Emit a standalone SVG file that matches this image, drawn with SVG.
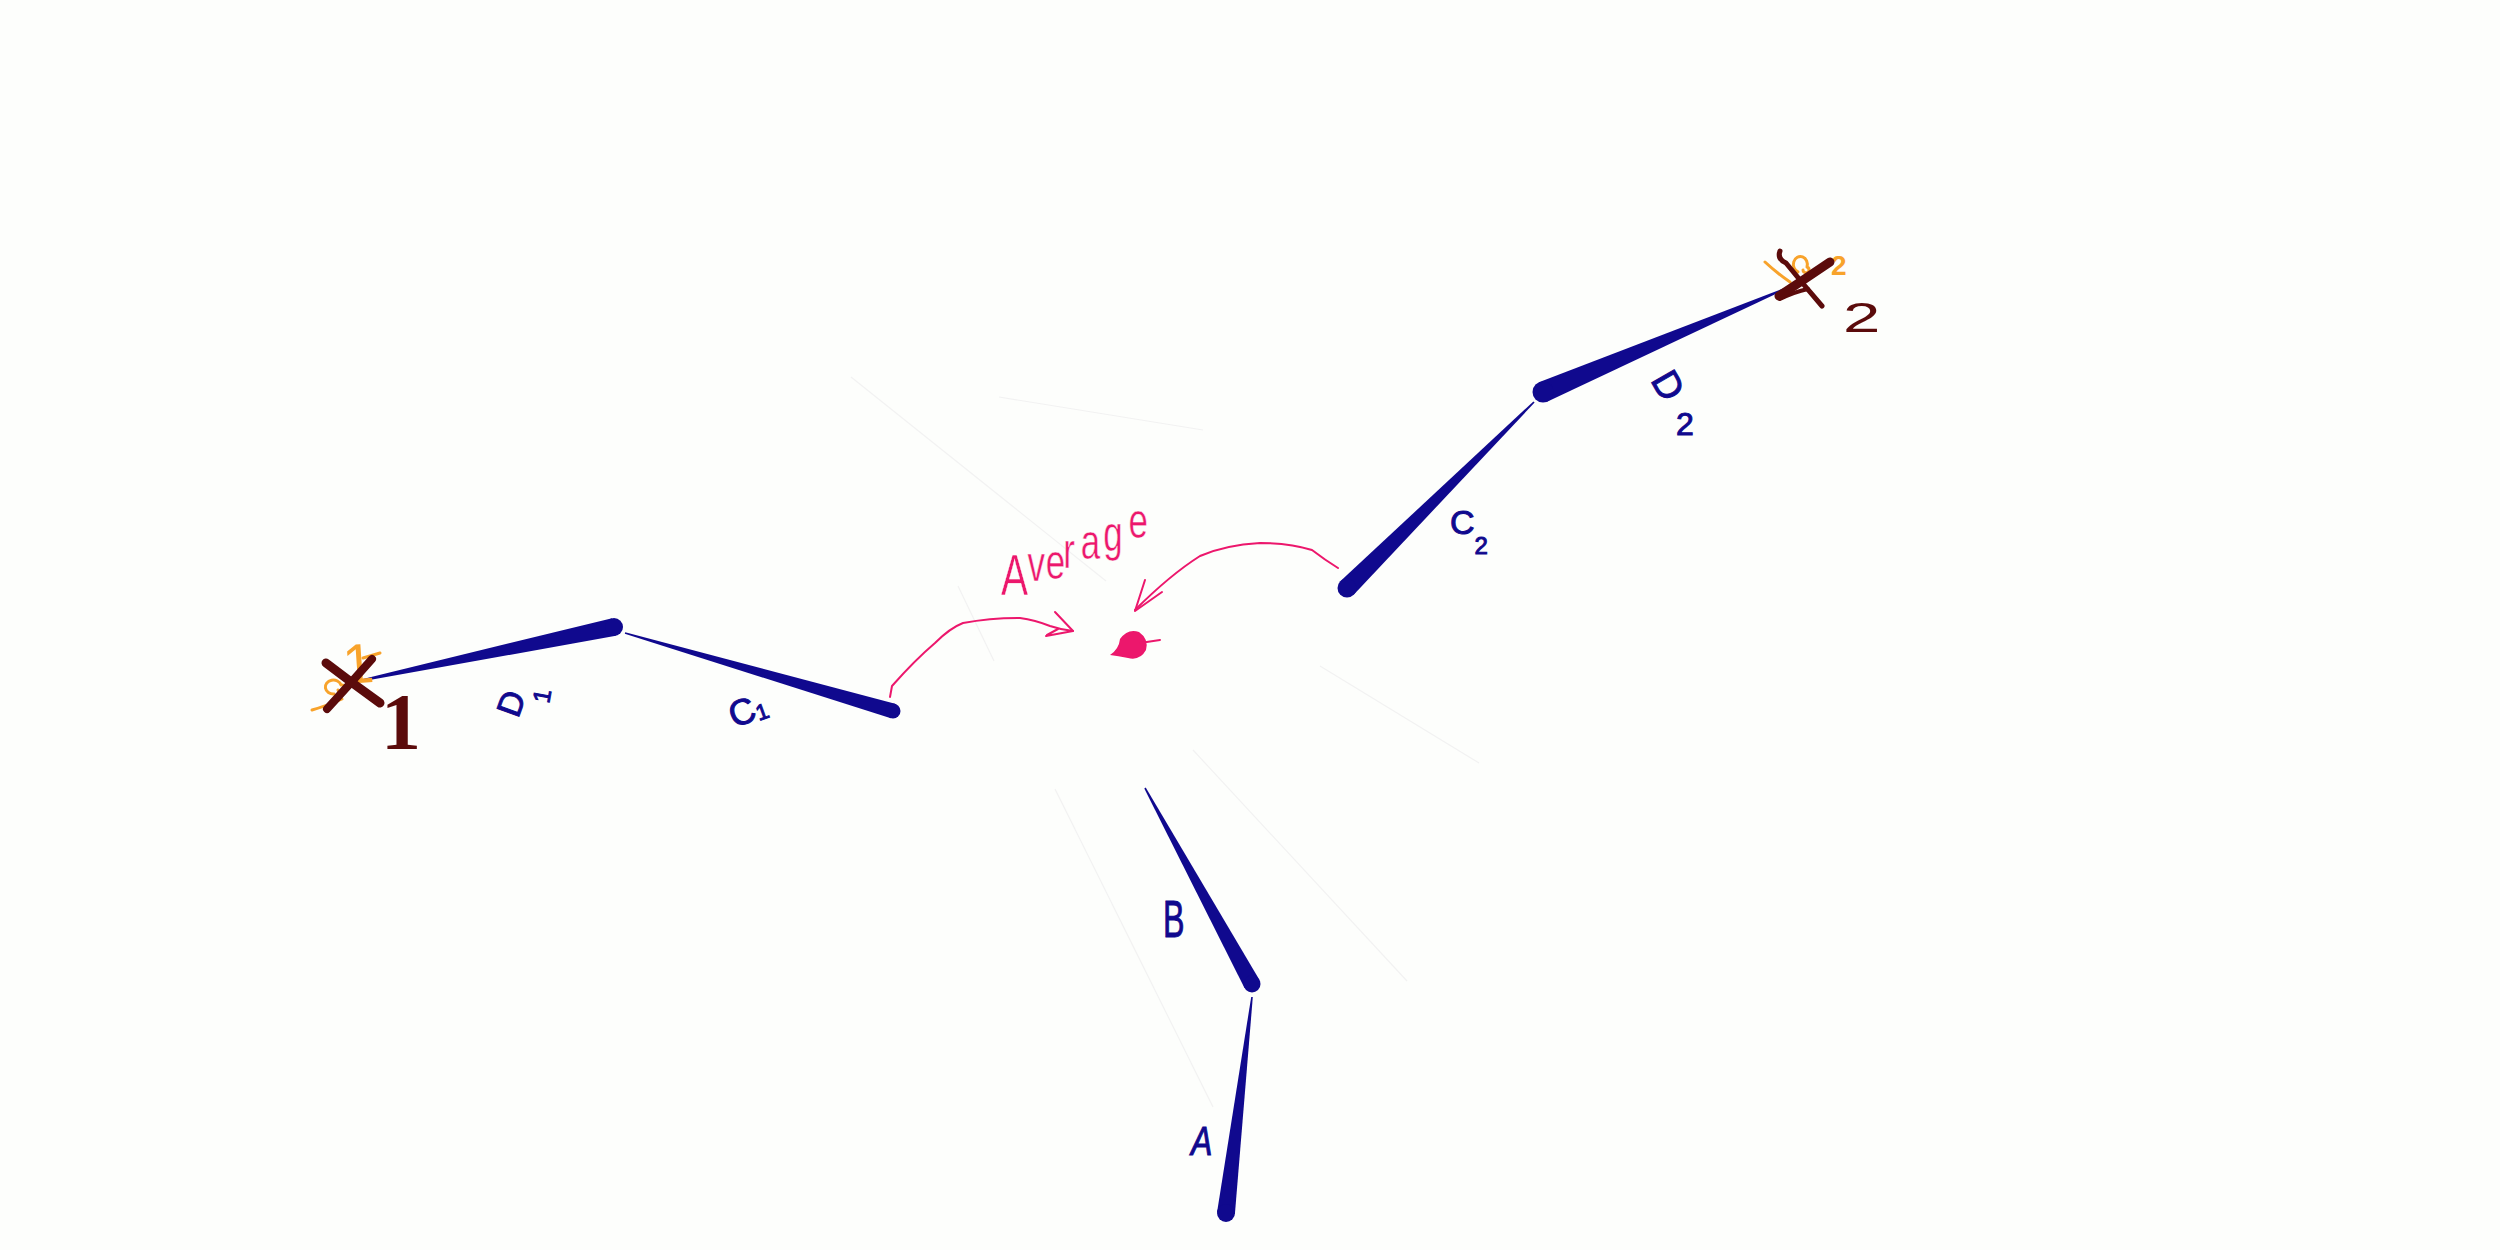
<svg xmlns="http://www.w3.org/2000/svg" width="2500" height="1250" viewBox="0 0 2500 1250">
  <style>
    .navy { fill: #10098e; }
    .lbl { font-family: "Liberation Sans", sans-serif; fill: #10098e; stroke: #10098e; stroke-width: 1; }
    .brown-stroke { fill: none; stroke: #5b0b0b; stroke-linecap: round; stroke-linejoin: round; }
    .brown-serif { font-family: "Liberation Serif", serif; font-weight: bold; fill: #5b0b0b; }
    .brown-sans { font-family: "Liberation Sans", sans-serif; fill: #5b0b0b; }
    .orange-stroke { fill: none; stroke: #f8a32b; stroke-width: 3; stroke-linecap: round; stroke-linejoin: round; }
    .orange-text { font-family: "Liberation Sans", sans-serif; fill: #f8a32b; }
    .pink-line { fill: none; stroke: #ec176c; stroke-width: 2; stroke-linecap: round; stroke-linejoin: round; }
    .avg { font-family: "Liberation Sans", sans-serif; fill: #ec176c; stroke: #fdfefc; stroke-width: 0.5; }
    .guide { stroke: #f2f2f2; stroke-width: 1.2; fill: none; }
  </style>
  <rect x="0" y="0" width="2500" height="1250" fill="#fdfefc"/>

  <g id="guides">
    <line class="guide" x1="851" y1="377" x2="1106" y2="581"/>
    <line class="guide" x1="999" y1="397" x2="1203" y2="430"/>
    <line class="guide" x1="958" y1="586" x2="994" y2="661"/>
    <line class="guide" x1="1320" y1="666" x2="1479" y2="763"/>
    <line class="guide" x1="1193" y1="750" x2="1407" y2="981"/>
    <line class="guide" x1="1055" y1="789" x2="1213" y2="1107"/>
  </g>

  <g id="segment-D1">
    <polygon class="navy" points="354.2,682.8 615.9,635.8 612.1,618.2 353.8,681.2"/>
    <circle class="navy" cx="614" cy="627" r="9"/>
    <text class="lbl" font-size="34"><tspan x="518" y="719" rotate="-70">D</tspan><tspan x="549" y="704" font-size="24" rotate="-80">1</tspan></text>
  </g>

  <g id="segment-C1">
    <polygon class="navy" points="624.8,633.8 890.9,718.2 895.1,703.8 625.2,632.2"/>
    <circle class="navy" cx="893" cy="711" r="7.5"/>
    <text class="lbl" font-size="36" transform="translate(734,728) rotate(-20)">C<tspan font-size="22" dy="2">1</tspan></text>
  </g>

  <g id="segment-C2">
    <polygon class="navy" points="1533.4,401.4 1340.3,581.3 1353.7,594.7 1534.6,402.6"/>
    <circle class="navy" cx="1347" cy="588" r="9.5"/>
    <text class="lbl" font-size="34" x="1450" y="534">C<tspan font-size="24" dy="20">2</tspan></text>
  </g>

  <g id="segment-D2">
    <polygon class="navy" points="1788.7,286.3 1538.9,382.3 1547.1,401.7 1789.3,287.7"/>
    <circle class="navy" cx="1543" cy="392" r="10.5"/>
    <text class="lbl" font-size="38"><tspan x="1650" y="380" rotate="60">D</tspan><tspan x="1676" y="435" font-size="32">2</tspan></text>
  </g>

  <g id="segment-B">
    <polygon class="navy" points="1144.3,788.4 1244.5,988.1 1259.5,979.9 1145.7,787.6"/>
    <circle class="navy" cx="1252" cy="984" r="8.5"/>
    <text class="lbl" font-size="52" transform="translate(1163,937) scale(0.62,1)">B</text>
  </g>

  <g id="segment-A">
    <polygon class="navy" points="1251.2,996.9 1217.1,1211.9 1234.9,1214.1 1252.8,997.1"/>
    <circle class="navy" cx="1226" cy="1213" r="9"/>
    <text class="lbl" font-size="40" font-style="italic" transform="translate(1191,1155) scale(0.8,1)">A</text>
  </g>

  <g id="point-1">
    <text class="orange-text" font-size="56" transform="translate(344,684) rotate(-4)">1</text>
    <path class="orange-stroke" d="M 334 694 a 8 7 0 1 1 7 -9 a 4 4 0 1 1 -3 5"/>
    <path class="orange-stroke" d="M 312 710 Q 326 706 342 699"/>
    <path class="orange-stroke" d="M 363 658 L 380 653"/>
    <path class="brown-stroke" stroke-width="9" d="M 326 663 Q 352 683 380 703"/>
    <path class="brown-stroke" stroke-width="8" d="M 372 659 Q 350 684 327 709"/>
    <text class="brown-serif" font-size="80" x="401" y="749" text-anchor="middle">1</text>
  </g>

  <g id="point-2">
    <path class="orange-stroke" d="M 1765 262 Q 1778 274 1790 282"/>
    <path class="orange-stroke" d="M 1798 272 a 7 8 0 1 1 9 -5 a 3 3 0 1 1 -4 3"/>
    <text class="orange-text" font-size="28" font-weight="bold" x="1831" y="275">2</text>
    <path class="brown-stroke" stroke-width="5" d="M 1780 251 Q 1777 259 1786 263 Q 1803 284 1822 306"/>
    <path class="brown-stroke" stroke-width="4" d="M 1780 299 Q 1794 292 1808 289"/>
    <path class="brown-stroke" stroke-width="9" d="M 1779 296 Q 1805 279 1830 262"/>
    <text class="brown-sans" font-size="42" transform="translate(1843,332) scale(1.6,1)">2</text>
  </g>

  <g id="average-point">
    <path fill="#ec176c" d="M 1110 655 Q 1119 649 1120 639 Q 1128 628 1139 632 Q 1149 639 1146 650 Q 1140 661 1128 658 Q 1118 656 1110 655 Z"/>
    <path class="pink-line" d="M 1140 643 L 1160 640"/>
  </g>

  <g id="average-label">
    <text class="avg" transform="translate(1001,0) scale(0.7,1)"><tspan font-size="58" x="0" y="595">A</tspan><tspan font-size="50" x="38 64 89 114 146 182" y="581 579 568 559 551 538">verage</tspan></text>
  </g>

  <g id="connectors">
    <path class="pink-line" d="M 890 697 L 892 686 Q 915 660 935 643 Q 950 628 963 623 Q 990 618 1020 618 Q 1035 620 1050 626 Q 1062 630 1073 631"/>
    <path class="pink-line" d="M 1055 612 L 1073 631 L 1046 636 M 1058 629 L 1047 635"/>
    <path class="pink-line" d="M 1338 568 Q 1325 560 1312 550 Q 1290 543 1260 543 Q 1225 545 1200 556 Q 1170 575 1135 610"/>
    <path class="pink-line" d="M 1145 580 L 1135 611 L 1162 592"/>
  </g>
</svg>
